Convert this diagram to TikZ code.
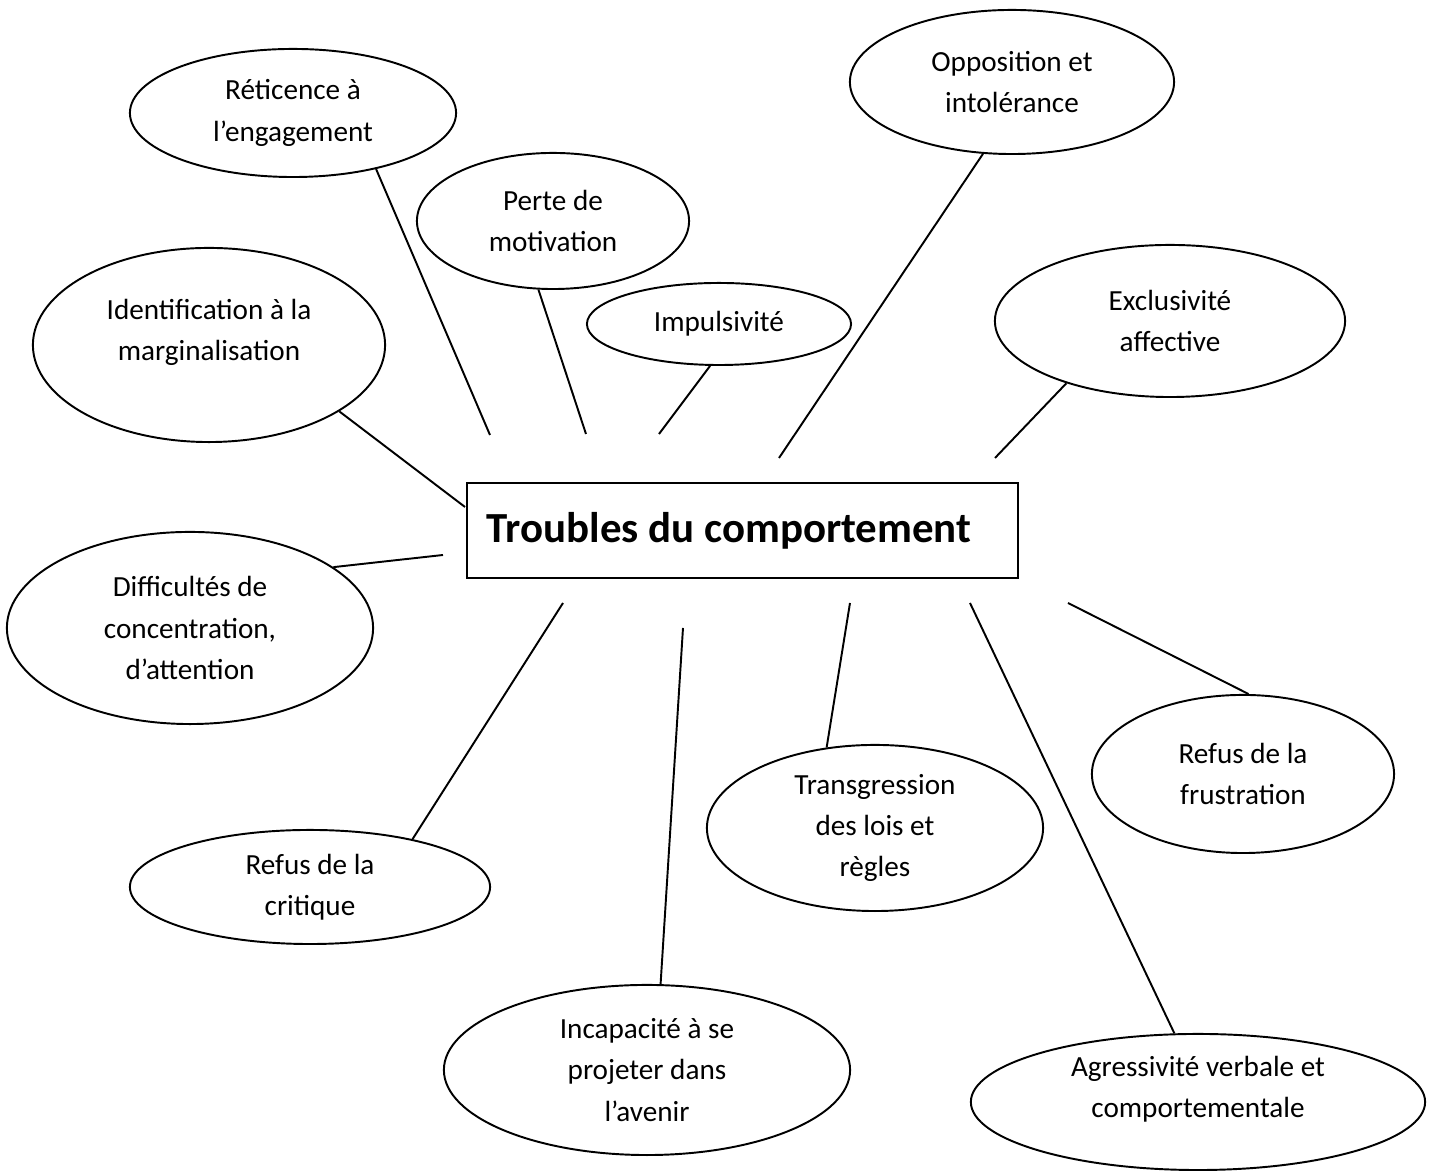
\documentclass[tikz,border=0pt]{standalone}
\usepackage{fontspec}
\setmainfont{Carlito}
\usetikzlibrary{shapes.geometric}

\begin{document}
\begin{tikzpicture}[x=0.01cm,y=-0.01cm,
  bulle/.style={ellipse,draw,line width=.55pt,inner sep=0pt,align=center,
    font=\fontsize{8.3}{11.7}\selectfont},
  trait/.style={line width=.55pt}]
\useasboundingbox (0,0) rectangle (1435,1174);

% cadre central
\node[draw,line width=.55pt,minimum width=5.51cm,minimum height=0.95cm,
  text width=5.11cm,inner xsep=0.2cm,align=flush left,
  font=\fontsize{12.2}{14}\selectfont\bfseries] (tdc) at (742.5,530.5)
  {Troubles du comportement};

% bulles
\node[bulle,minimum width=3.26cm,minimum height=1.28cm] (ret) at (293,113) {Réticence à\\l’engagement};
\node[bulle,minimum width=2.72cm,minimum height=1.36cm] (perte) at (553,221) {Perte de\\motivation};
\node[bulle,minimum width=2.64cm,minimum height=0.82cm] (imp) at (719,324) {Impulsivité};
\node[bulle,minimum width=3.24cm,minimum height=1.44cm] (opp) at (1012,82) {Opposition et\\intolérance};
\node[bulle,minimum width=3.50cm,minimum height=1.52cm] (excl) at (1170,321) {Exclusivité\\affective};
\node[bulle,minimum width=3.52cm,minimum height=1.94cm] (ident) at (209,345) {Identification à la\\marginalisation\\[-3pt]\mbox{}};
\node[bulle,minimum width=3.66cm,minimum height=1.92cm] (diff) at (190,628) {Difficultés de\\concentration,\\d’attention};
\node[bulle,minimum width=3.60cm,minimum height=1.14cm] (crit) at (310,887) {Refus de la\\critique};
\node[bulle,minimum width=4.06cm,minimum height=1.70cm] (inc) at (647,1070) {Incapacité à se\\projeter dans\\l’avenir};
\node[bulle,minimum width=3.36cm,minimum height=1.66cm] (trans) at (875,828) {Transgression\\des lois et\\règles};
\node[bulle,minimum width=3.02cm,minimum height=1.58cm] (frus) at (1243,774) {Refus de la\\frustration};
\node[bulle,minimum width=4.54cm,minimum height=1.36cm] (agr) at (1198,1102) {Agressivité verbale et\\comportementale\\[-3pt]\mbox{}};

% bouts libres des traits
\coordinate (retF) at (490,435);
\coordinate (perteF) at (586,434);
\coordinate (impF) at (659,434);
\coordinate (oppF) at (779,458);
\coordinate (exclF) at (995,458);
\coordinate (identF) at (465,507);
\coordinate (diffF) at (443,555);
\coordinate (critF) at (563,603);
\coordinate (incF) at (683,628);
\coordinate (transF) at (850,603);
\coordinate (agrF) at (970,603);
\coordinate (frusF) at (1068,603);

\draw[trait] (ret.-34) -- (retF);
\draw[trait] (perte.-102) -- (perteF);
\draw[trait] (imp.-102) -- (impF);
\draw[trait] (opp.-112) -- (oppF);
\draw[trait] (excl.-149) -- (exclF);
\draw[trait] (ident.-27) -- (identF);
\draw[trait] (diff.23) -- (diffF);
\draw[trait] (crit.25) -- (critF);
\draw[trait] (inc.81) -- (incF);
\draw[trait] (trans.121) -- (transF);
\draw[trait] (agr.109) -- (agrF);
\draw[trait] (frus.86) -- (frusF);
\end{tikzpicture}
\end{document}
